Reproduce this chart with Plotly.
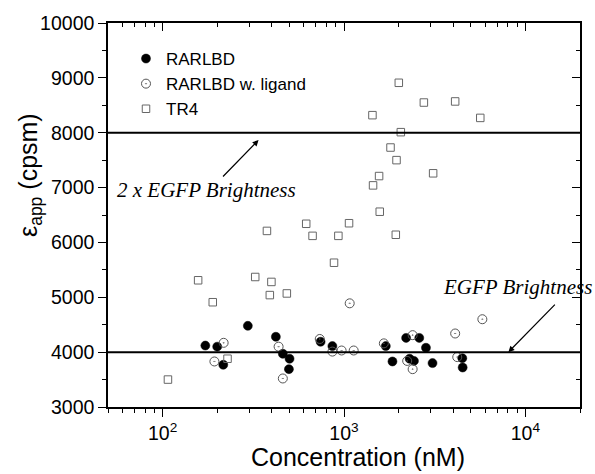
import plotly.graph_objects as go
import math

# ---- data ----
rarlbd_x = [172, 200, 216, 295, 421, 460, 501, 497, 743, 863, 1700, 2200, 2600, 2830, 1850, 2300, 2430, 3076, 4490, 4510]
rarlbd_y = [4120, 4100, 3770, 4480, 4280, 3970, 3880, 3690, 4190, 4110, 4110, 4260, 4260, 4080, 3830, 3880, 3840, 3800, 3890, 3720]

lig_x = [193, 217, 436, 460, 735, 863, 970, 1075, 1131, 1658, 2230, 2390, 2390, 4100, 4210, 5790]
lig_y = [3830, 4170, 4100, 3520, 4240, 4010, 4030, 4890, 4030, 4160, 3840, 4310, 3690, 4340, 3910, 4600]

tr4_x = [107, 157, 189, 228, 324, 376, 398, 390, 484, 619, 671, 881, 931, 1066, 1574, 1930,
         1948, 3100, 1561, 1446, 2005, 2756, 4100, 1435, 5640, 2057, 1805]
tr4_y = [3500, 5310, 4910, 3880, 5370, 6210, 5280, 5040, 5070, 6340, 6120, 5630, 6120, 6350, 6560, 6140,
         7500, 7260, 7210, 7040, 8910, 8550, 8570, 8320, 8270, 8010, 7730]

ref_levels = [4000, 8000]
ref_labels = ["EGFP Brightness", "2 x EGFP Brightness"]
x_range = [50, 20000]
y_range = [3000, 10000]
x_major = [100, 1000, 10000]
x_major_text = ["10<sup>2</sup>", "10<sup>3</sup>", "10<sup>4</sup>"]

W, H = 595, 474
ML, MR, MT, MB = 108, 15, 23, 67
PW, PH = W - ML - MR, H - MT - MB

fig = go.Figure()
fig.add_trace(go.Scatter(x=rarlbd_x, y=rarlbd_y, mode="markers", name="RARLBD",
                         marker=dict(symbol="circle", size=9, color="black",
                                     line=dict(color="black", width=0.5))))
fig.add_trace(go.Scatter(x=lig_x, y=lig_y, mode="markers", name="RARLBD w. ligand",
                         marker=dict(symbol="circle-open-dot", size=9, color="#555555",
                                     line=dict(color="#555555", width=1))))
fig.add_trace(go.Scatter(x=tr4_x, y=tr4_y, mode="markers", name="TR4",
                         xaxis="x2", yaxis="y2",
                         marker=dict(symbol="square-open", size=7.5, color="#666666",
                                     line=dict(color="#666666", width=1))))

for lv in ref_levels:
    fig.add_shape(type="line", xref="paper", yref="y", x0=0, x1=1, y0=lv, y1=lv,
                  line=dict(color="black", width=2))

lx = [math.log10(v) for v in x_range]
font_tick = dict(family="Liberation Sans, Arial", size=19.5, color="black")

fig.update_layout(
    width=W, height=H,
    margin=dict(l=ML, r=MR, t=MT, b=MB, pad=0, autoexpand=False),
    paper_bgcolor="white", plot_bgcolor="white",
    showlegend=True,
    legend=dict(x=(126 - ML) / PW, y=(H - MB - 41) / PH, xanchor="left", yanchor="top",
                bgcolor="rgba(0,0,0,0)", font=dict(family="Liberation Sans, Arial", size=17, color="black"),
                itemwidth=30, tracegroupgap=0),
    xaxis=dict(type="log", range=lx, showgrid=False, zeroline=False, automargin=False,
               showline=True, linecolor="black", linewidth=1.5,
               ticks="outside", ticklen=8, tickwidth=1.2, tickcolor="black",
               tickvals=x_major, ticktext=x_major_text, tickfont=font_tick,
               minor=dict(ticks="outside", ticklen=4, tickwidth=1, tickcolor="black", dtick="D1", showgrid=False)),
    yaxis=dict(range=y_range, showgrid=False, zeroline=False, automargin=False,
               showline=True, linecolor="black", linewidth=1.5,
               ticks="outside", ticklen=8, tickwidth=1.2, tickcolor="black",
               dtick=1000, tickformat="d", tickfont=font_tick,
               minor=dict(ticks="outside", ticklen=4, tickwidth=1, tickcolor="black", dtick=500, showgrid=False)),
    xaxis2=dict(type="log", range=lx, overlaying="x", side="top", anchor="y2", automargin=False,
                showgrid=False, zeroline=False, showline=True, linecolor="black", linewidth=1.5,
                ticks="inside", ticklen=8, tickwidth=1.2, tickcolor="black",
                tickvals=x_major, showticklabels=False,
                minor=dict(ticks="inside", ticklen=4, tickwidth=1, tickcolor="black", dtick="D1", showgrid=False)),
    yaxis2=dict(range=y_range, overlaying="y", side="right", anchor="x2", automargin=False,
                showgrid=False, zeroline=False, showline=True, linecolor="black", linewidth=1.5,
                ticks="inside", ticklen=8, tickwidth=1.2, tickcolor="black",
                dtick=1000, showticklabels=False,
                minor=dict(ticks="inside", ticklen=4, tickwidth=1, tickcolor="black", dtick=500, showgrid=False)),
)

# axis titles as annotations
fig.add_annotation(text="Concentration (nM)", xref="paper", yref="paper",
                   x=(358 - ML) / PW, y=(H - MB - 457) / PH, xanchor="center", yanchor="middle",
                   showarrow=False, font=dict(family="Liberation Sans, Arial", size=25, color="black"))
fig.add_annotation(text="ε<sub>app</sub> (cpsm)", xref="paper", yref="paper",
                   x=(30 - ML) / PW, y=(H - MB - 175) / PH, xanchor="center", yanchor="middle",
                   textangle=-90, showarrow=False,
                   font=dict(family="Liberation Sans, Arial", size=25, color="black"))

# reference level labels with arrows
serif = dict(family="Liberation Serif, Times New Roman", size=21, color="black")
fig.add_annotation(text="<i>" + ref_labels[1] + "</i>", xref="paper", yref="paper",
                   x=(206 - ML) / PW, y=(H - MB - 190) / PH, xanchor="center", yanchor="middle",
                   showarrow=False, font=serif)
fig.add_annotation(text="", x=math.log10(338), y=7867, xref="x", yref="y",
                   ax=-37, ay=38, showarrow=True, arrowhead=2, arrowsize=1, arrowwidth=1.2,
                   arrowcolor="black")
fig.add_annotation(text="<i>" + ref_labels[0] + "</i>", xref="paper", yref="paper",
                   x=(517 - ML) / PW, y=(H - MB - 287) / PH, xanchor="center", yanchor="middle",
                   showarrow=False, font=serif)
fig.add_annotation(text="", x=math.log10(8054), y=ref_levels[0], xref="x", yref="y",
                   ax=48, ay=-49, showarrow=True, arrowhead=2, arrowsize=1, arrowwidth=1.2,
                   arrowcolor="black")

fig.write_html("out.html", config={"displayModeBar": False},
               post_script="document.body.style.margin='0';")
